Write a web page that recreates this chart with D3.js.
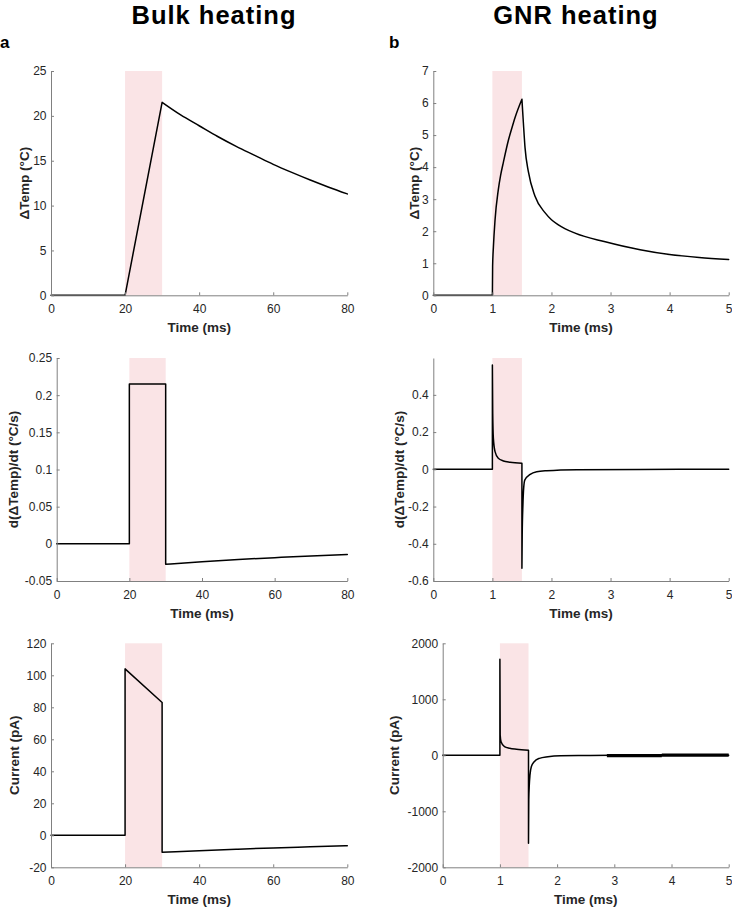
<!DOCTYPE html>
<html>
<head>
<meta charset="utf-8">
<script src="https://cdn.jsdelivr.net/npm/d3@7"></script>
<style>
  body { margin: 0; background: #fff; }
  svg { display: block; font-family: Arial, "Liberation Sans", sans-serif; }
</style>
</head>
<body>
<svg id="chart" width="732" height="908"></svg>
<script>
// ---- values ----
// a: bulk heating (time in ms)
const bulkTempT = [0, 20, 30, 35, 40, 45, 50, 55, 60, 65, 70, 75, 80]
const bulkTemp  = [0, 0, 21.5, 20.1, 18.9, 17.7, 16.6, 15.6, 14.6, 13.7, 12.85, 12.05, 11.3]

const bulkRateT = [0, 20, 20, 30, 30, 40, 50, 60, 70, 80]
const bulkRate  = [0, 0, 0.215, 0.215, -0.0275, -0.0241, -0.0211, -0.0186, -0.0163, -0.0144]

const bulkCurrT = [0, 20, 20, 30, 30, 40, 50, 60, 70, 80]
const bulkCurr  = [0, 0, 104, 83, -10.6, -9.6, -8.7, -7.9, -7.2, -6.5]

// b: GNR heating
const gnrTempT = [0, 1, 1.004, 1.017, 1.045, 1.1, 1.14, 1.186, 1.27, 1.33, 1.384, 1.5,
                  1.525, 1.553, 1.61, 1.72, 1.89, 2.0, 2.117, 2.4, 2.91, 3.5, 4, 4.5, 5]
const gnrTemp  = [0, 0, 0.9, 1.5, 2.35, 3.29, 3.75, 4.15, 4.83, 5.22, 5.55, 6.12,
                  5.37, 4.6, 3.85, 3.1, 2.58, 2.36, 2.2, 1.94, 1.67, 1.42, 1.27, 1.18, 1.12]

const gnrRateT = [0, 1, 1, 1.006, 1.017, 1.045, 1.1, 1.186, 1.3, 1.5, 1.5, 1.505, 1.517, 1.53, 1.55, 1.64, 1.75, 1.92, 2.43, 3.5, 5]
const gnrRate  = [0, 0, 0.56, 0.3, 0.166, 0.095, 0.059, 0.045, 0.038, 0.032, -0.532, -0.35, -0.19, -0.1, -0.057, -0.027, -0.013, -0.0075, -0.002, -0.0005, 0]

const gnrCurrT = [0, 1, 1, 1.005, 1.02, 1.08, 1.17, 1.29, 1.5, 1.5, 1.505, 1.514, 1.526, 1.549, 1.6, 1.69, 1.84, 2.06, 2.58, 3.5, 5]
const gnrCurr  = [0, 0, 1715, 362, 243, 155, 125, 107, 89, -1571, -800, -530, -352, -203, -114, -54, -24, -7, -3, 0, 0]

// noisy stretch at the end of the GNR current trace
const gnrNoiseT  = [2.87, 3.83, 3.83, 5]
const gnrNoiseLo = [-34, -34, -26, -26]
const gnrNoiseHi = [24, 24, 32, 32]

// light pulses
const bulkPulse = [20, 30]
const gnrPulse = [1, 1.5]

// ticks
const bulkTimeTicks = [0, 20, 40, 60, 80]
const gnrTimeTicks = [0, 1, 2, 3, 4, 5]
const bulkTempTicks = [0, 5, 10, 15, 20, 25]
const gnrTempTicks = [0, 1, 2, 3, 4, 5, 6, 7]
const bulkRateTicks = [-0.05, 0, 0.05, 0.1, 0.15, 0.2, 0.25]
const gnrRateTicks = [-0.6, -0.4, -0.2, 0, 0.2, 0.4]
const bulkCurrTicks = [-20, 0, 20, 40, 60, 80, 100, 120]
const gnrCurrTicks = [-2000, -1000, 0, 1000, 2000]

const svg = d3.select("#chart")
const axisColor = "#262626"
const pink = "rgb(250,228,230)"

const panels = [
    { l: 51, r: 347.3, t: 71, b: 295.3, xd: [0, 80], yd: [0, 25], xt: bulkTimeTicks, yt: bulkTempTicks,
      xs: bulkTempT, ys: bulkTemp, corners: [20, 30], pulse: bulkPulse, ylabel: "ΔTemp (°C)", lx: 24 },
    { l: 433.3, r: 728.7, t: 71, b: 295.3, xd: [0, 5], yd: [0, 7], xt: gnrTimeTicks, yt: gnrTempTicks,
      xs: gnrTempT, ys: gnrTemp, corners: [1, 1.5], pulse: gnrPulse, ylabel: "ΔTemp (°C)", lx: 414 },
    { l: 56.7, r: 347.3, t: 358, b: 581, xd: [0, 80], yd: [-0.05, 0.25], xt: bulkTimeTicks, yt: bulkRateTicks,
      xs: bulkRateT, ys: bulkRate, corners: [], pulse: bulkPulse, ylabel: "d(ΔTemp)/dt (°C/s)", lx: 13 },
    { l: 433.3, r: 728.7, t: 358, b: 581, xd: [0, 5], yd: [-0.6, 0.598], xt: gnrTimeTicks, yt: gnrRateTicks,
      xs: gnrRateT, ys: gnrRate, corners: [], pulse: gnrPulse, ylabel: "d(ΔTemp)/dt (°C/s)", lx: 399 },
    { l: 51, r: 347.3, t: 643.3, b: 867.3, xd: [0, 80], yd: [-20, 120], xt: bulkTimeTicks, yt: bulkCurrTicks,
      xs: bulkCurrT, ys: bulkCurr, corners: [], pulse: bulkPulse, ylabel: "Current (pA)", lx: 14 },
    { l: 442.7, r: 728.7, t: 643.3, b: 867.3, xd: [0, 5], yd: [-2000, 2000], xt: gnrTimeTicks, yt: gnrCurrTicks,
      xs: gnrCurrT, ys: gnrCurr, corners: [], pulse: gnrPulse, ylabel: "Current (pA)", lx: 394, noise: true }
]

// split a trace into smooth runs, vertical jumps and corners
function pieces(xs, ys, corners) {
    let pts = xs.map((d, i) => [d, ys[i]])
    let out = []
    let cur = [pts[0]]
    for (let i = 1; i < pts.length; i++) {
        let p = pts[i], q = pts[i - 1]
        if (p[0] === q[0]) {
            if (cur.length > 1) out.push(cur)
            out.push([q, p])
            cur = [p]
        } else {
            cur.push(p)
            if (corners.includes(p[0])) {
                out.push(cur)
                cur = [p]
            }
        }
    }
    if (cur.length > 1) out.push(cur)
    return out
}

function drawPanel(p) {
    let x = d3.scaleLinear().domain(p.xd).range([p.l, p.r])
    let y = d3.scaleLinear().domain(p.yd).range([p.b, p.t])
    let g = svg.append("g")

    g.append("rect")
        .attr("x", x(p.pulse[0]))
        .attr("y", p.t)
        .attr("width", x(p.pulse[1]) - x(p.pulse[0]))
        .attr("height", p.b - p.t)
        .attr("fill", pink)

    let line = d3.line()
        .x(d => x(d[0]))
        .y(d => y(d[1]))
        .curve(d3.curveMonotoneX)

    g.append("path")
        .attr("d", pieces(p.xs, p.ys, p.corners).map(line).join(""))
        .attr("fill", "none")
        .attr("stroke", "#000")
        .attr("stroke-width", 1.5)
        .attr("stroke-linejoin", "round")
        .attr("stroke-linecap", "round")

    if (p.noise) {
        let band = d3.area()
            .x((d, i) => x(gnrNoiseT[i]))
            .y0((d, i) => y(gnrNoiseLo[i]))
            .y1((d, i) => y(gnrNoiseHi[i]))
        g.append("path")
            .attr("d", band(gnrNoiseT))
            .attr("fill", "#000")
    }

    let xAxis = g.append("g")
        .attr("transform", "translate(0," + p.b + ")")
        .call(d3.axisBottom(x).tickValues(p.xt).tickFormat(d => String(d))
            .tickSizeInner(-3).tickSizeOuter(0).tickPadding(9.5))
    let yAxis = g.append("g")
        .attr("transform", "translate(" + p.l + ",0)")
        .call(d3.axisLeft(y).tickValues(p.yt).tickFormat(d => String(d))
            .tickSizeInner(-3).tickSizeOuter(0).tickPadding(4.5))

    ;[xAxis, yAxis].forEach(a => {
        a.select(".domain").attr("stroke", "#808080").attr("stroke-width", 1)
        a.selectAll(".tick line").attr("stroke", "#808080")
        a.selectAll(".tick text")
            .attr("fill", axisColor)
            .style("font-size", "12px")
            .style("font-family", "Arial, 'Liberation Sans', sans-serif")
    })

    g.append("text")
        .attr("x", (p.l + p.r) / 2)
        .attr("y", p.b + 37)
        .attr("text-anchor", "middle")
        .style("font-size", "13.5px")
        .style("font-weight", "bold")
        .attr("fill", axisColor)
        .text("Time (ms)")

    g.append("text")
        .attr("transform", "translate(" + p.lx + "," + (p.t + p.b) / 2 + ")rotate(-90)")
        .attr("text-anchor", "middle")
        .attr("dominant-baseline", "central")
        .style("font-size", "13.5px")
        .style("font-weight", "bold")
        .attr("fill", axisColor)
        .text(p.ylabel)
}

panels.forEach(drawPanel)

// column titles and panel letters
svg.append("text").attr("x", 214).attr("y", 23.5).attr("text-anchor", "middle")
    .style("font-size", "25.5px").style("font-weight", "bold").style("letter-spacing", "1px")
    .text("Bulk heating")
svg.append("text").attr("x", 576).attr("y", 23.5).attr("text-anchor", "middle")
    .style("font-size", "25.5px").style("font-weight", "bold").style("letter-spacing", "1px")
    .text("GNR heating")
svg.append("text").attr("x", 0).attr("y", 48)
    .style("font-size", "17px").style("font-weight", "bold").text("a")
svg.append("text").attr("x", 389).attr("y", 48)
    .style("font-size", "17px").style("font-weight", "bold").text("b")
</script>
</body>
</html>
